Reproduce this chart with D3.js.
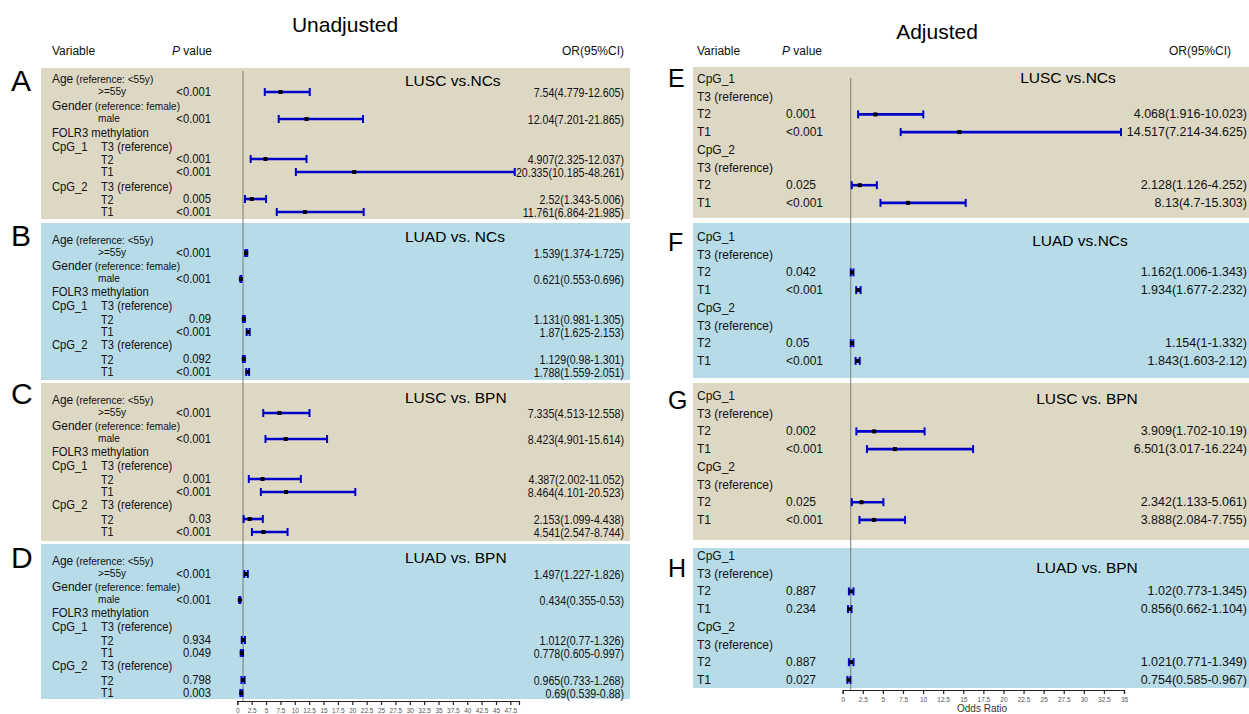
<!DOCTYPE html>
<html>
<head>
<meta charset="utf-8">
<script src="https://cdn.jsdelivr.net/npm/d3@7"></script>
<style>
  html, body { margin: 0; padding: 0; background: #ffffff; }
  svg { display: block; font-family: "Liberation Sans", Arial, sans-serif; }
</style>
</head>
<body>
<svg id="chart" width="1249" height="714"></svg>
<script>
// ---- Unadjusted models (panels A-D) ----
const leftIds = ["A", "B", "C", "D"];
const leftTitles = ["LUSC vs.NCs", "LUAD vs. NCs", "LUSC vs. BPN", "LUAD vs. BPN"];
const leftTerms = [">=55y", "male", "T2", "T1", "T2", "T1"];
const uP = [
  ["<0.001", "<0.001", "<0.001", "<0.001", "0.005", "<0.001"],
  ["<0.001", "<0.001", "0.09", "<0.001", "0.092", "<0.001"],
  ["<0.001", "<0.001", "0.001", "<0.001", "0.03", "<0.001"],
  ["<0.001", "<0.001", "0.934", "0.049", "0.798", "0.003"]
];
const uOR = [
  [7.54, 12.04, 4.907, 20.335, 2.52, 11.761],
  [1.539, 0.621, 1.131, 1.87, 1.129, 1.788],
  [7.335, 8.423, 4.387, 8.464, 2.153, 4.541],
  [1.497, 0.434, 1.012, 0.778, 0.965, 0.69]
];
const uLow = [
  [4.779, 7.201, 2.325, 10.185, 1.343, 6.864],
  [1.374, 0.553, 0.981, 1.625, 0.98, 1.559],
  [4.513, 4.901, 2.002, 4.101, 1.099, 2.547],
  [1.227, 0.355, 0.77, 0.605, 0.733, 0.539]
];
const uHigh = [
  [12.605, 21.865, 12.037, 48.261, 5.006, 21.985],
  [1.725, 0.696, 1.305, 2.153, 1.301, 2.051],
  [12.558, 15.614, 11.052, 20.523, 4.438, 8.744],
  [1.826, 0.53, 1.326, 0.997, 1.268, 0.88]
];
const leftTicks = [0, 2.5, 5, 7.5, 10, 12.5, 15, 17.5, 20, 22.5, 25, 27.5, 30, 32.5, 35, 37.5, 40, 42.5, 45, 47.5];

// ---- Adjusted models (panels E-H) ----
const rightIds = ["E", "F", "G", "H"];
const rightTitles = ["LUSC vs.NCs", "LUAD vs.NCs", "LUSC vs. BPN", "LUAD vs. BPN"];
const rightTerms = ["T2", "T1", "T2", "T1"];
const aP = [
  ["0.001", "<0.001", "0.025", "<0.001"],
  ["0.042", "<0.001", "0.05", "<0.001"],
  ["0.002", "<0.001", "0.025", "<0.001"],
  ["0.887", "0.234", "0.887", "0.027"]
];
const aOR = [
  [4.068, 14.517, 2.128, 8.13],
  [1.162, 1.934, 1.154, 1.843],
  [3.909, 6.501, 2.342, 3.888],
  [1.02, 0.856, 1.021, 0.754]
];
const aLow = [
  [1.916, 7.214, 1.126, 4.7],
  [1.006, 1.677, 1, 1.603],
  [1.702, 3.017, 1.133, 2.084],
  [0.773, 0.662, 0.771, 0.585]
];
const aHigh = [
  [10.023, 34.625, 4.252, 15.303],
  [1.343, 2.232, 1.332, 2.12],
  [10.19, 16.224, 5.061, 7.755],
  [1.345, 1.104, 1.349, 0.967]
];
const rightTicks = [0, 2.5, 5, 7.5, 10, 12.5, 15, 17.5, 20, 22.5, 25, 27.5, 30, 32.5, 35];

// ---- drawing ----
const svg = d3.select("#chart");
const BEIGE = "#ddd8c4", BLUE = "#b7dce7", BAR = "#0000c8";
const bgColors = [BEIGE, BLUE, BEIGE, BLUE];
const NARROW = 0.9; // condensed text used in the unadjusted table

const xL = d3.scaleLinear().domain([0, 49]).range([237.3, 519]);
const xR = d3.scaleLinear().domain([0, 35]).range([842.7, 1124]);

const leftTops = [68, 223, 383, 544], leftBottoms = [219, 380, 541, 699];
const rightTops = [67, 223, 383, 548], rightBottoms = [218, 378, 540, 688];
const rowsA = [11, 24, 38, 51, 65, 79, 91, 104, 119, 131, 144];
const rowsBCD = [17, 30, 43, 56, 69, 83, 96, 109, 122, 136, 149];
const leftEstRows = [1, 3, 6, 7, 9, 10];
const rightFirst = [12, 14, 13, 8], rightStep = 17.7;
const rightEstRows = [2, 3, 6, 7];
const leftLetterY = [91, 246, 404, 568];
const rightLetterY = [87, 251, 409, 577];
const leftTitleY = [86, 242, 403, 563];
const rightTitleY = [83, 246, 404, 573];
const rightTitleX = [1068, 1080, 1087, 1087];

function orText(o, l, h) { return `${o}(${l}-${h})`; }

function errorBar(g, x, y, o, l, h) {
  g.append("line").attr("x1", x(l)).attr("x2", x(h)).attr("y1", y).attr("y2", y)
    .attr("stroke", BAR).attr("stroke-width", 2.6);
  [l, h].forEach(v => g.append("line").attr("x1", x(v)).attr("x2", x(v))
    .attr("y1", y - 4).attr("y2", y + 4).attr("stroke", BAR).attr("stroke-width", 2));
  g.append("rect").attr("x", x(o) - 2).attr("y", y - 2).attr("width", 4).attr("height", 4)
    .attr("fill", "#000");
}

function txt(g, x, y, s, size, anchor, sx) {
  return g.append("text")
    .attr("transform", `translate(${x},${y}) scale(${sx || 1},1)`)
    .attr("dominant-baseline", "central")
    .attr("font-size", size).attr("text-anchor", anchor || "start").attr("fill", "#111").text(s);
}

// headings
svg.append("text").attr("x", 345).attr("y", 32).attr("text-anchor", "middle")
  .attr("font-size", 21).attr("fill", "#000").text("Unadjusted");
svg.append("text").attr("x", 937).attr("y", 39).attr("text-anchor", "middle")
  .attr("font-size", 21).attr("fill", "#000").text("Adjusted");

function header(x0, xp, xo) {
  const g = svg.append("g");
  txt(g, x0, 51, "Variable", 12);
  const t = txt(g, xp, 51, "", 12);
  t.append("tspan").attr("font-style", "italic").text("P");
  t.append("tspan").text(" value");
  txt(g, xo, 51, "OR(95%CI)", 12, "end");
}
header(52, 172, 624);
header(697, 782, 1231);

// panel backgrounds and reference lines at OR = 1
leftIds.forEach((id, i) => {
  svg.append("rect").attr("x", 41).attr("y", leftTops[i]).attr("width", 589)
    .attr("height", leftBottoms[i] - leftTops[i]).attr("fill", bgColors[i]);
});
rightIds.forEach((id, i) => {
  svg.append("rect").attr("x", 693).attr("y", rightTops[i]).attr("width", 556)
    .attr("height", rightBottoms[i] - rightTops[i]).attr("fill", bgColors[i]);
});
svg.append("line").attr("x1", xL(1)).attr("x2", xL(1)).attr("y1", 71).attr("y2", 701)
  .attr("stroke", "#7a7a7a").attr("stroke-width", 1);
svg.append("line").attr("x1", xR(1)).attr("x2", xR(1)).attr("y1", 78).attr("y2", 690)
  .attr("stroke", "#7a7a7a").attr("stroke-width", 1);

// left panels
leftIds.forEach((id, i) => {
  const g = svg.append("g");
  const top = leftTops[i];
  const rows = (i === 0 ? rowsA : rowsBCD).map(r => top + r);
  g.append("text").attr("x", 11).attr("y", leftLetterY[i]).attr("font-size", 30)
    .attr("fill", "#000").text(id);
  g.append("text").attr("x", 405).attr("y", leftTitleY[i]).attr("font-size", 15.5)
    .attr("fill", "#000").text(leftTitles[i]);

  let t = txt(g, 52, rows[0], "", 13, "start", 0.92);
  t.append("tspan").text("Age");
  t.append("tspan").attr("font-size", 11).text(" (reference: <55y)");
  t = txt(g, 52, rows[2], "", 13, "start", 0.92);
  t.append("tspan").text("Gender");
  t.append("tspan").attr("font-size", 11).text(" (reference: female)");
  txt(g, 52, rows[4], "FOLR3 methylation", 12.5, "start", NARROW);
  txt(g, 52, rows[5], "CpG_1", 12.5, "start", NARROW);
  txt(g, 101, rows[5], "T3 (reference)", 12.5, "start", NARROW);
  txt(g, 52, rows[8], "CpG_2", 12.5, "start", NARROW);
  txt(g, 101, rows[8], "T3 (reference)", 12.5, "start", NARROW);

  leftEstRows.forEach((r, k) => {
    const y = rows[r];
    if (k < 2) txt(g, 98, y - 1.5, leftTerms[k], 11.5, "start", 0.88);
    else txt(g, 101, y + (k % 2 === 0 ? 1 : 0), leftTerms[k], 12, "start", NARROW);
    txt(g, 211, y, uP[i][k], 12.5, "end", NARROW);
    txt(g, 624, y, orText(uOR[i][k], uLow[i][k], uHigh[i][k]), 12.5, "end", 0.85);
    errorBar(g, xL, y, uOR[i][k], uLow[i][k], uHigh[i][k]);
  });
});

// right panels
rightIds.forEach((id, i) => {
  const g = svg.append("g");
  const rows = d3.range(8).map(r => rightTops[i] + rightFirst[i] + r * rightStep);
  g.append("text").attr("x", 668).attr("y", rightLetterY[i]).attr("font-size", 25)
    .attr("fill", "#000").text(id);
  g.append("text").attr("x", rightTitleX[i]).attr("y", rightTitleY[i]).attr("text-anchor", "middle")
    .attr("font-size", 15.5).attr("fill", "#000").text(rightTitles[i]);
  txt(g, 697, rows[0], "CpG_1", 12);
  txt(g, 697, rows[1], "T3 (reference)", 12);
  txt(g, 697, rows[4], "CpG_2", 12);
  txt(g, 697, rows[5], "T3 (reference)", 12);
  rightEstRows.forEach((r, k) => {
    const y = rows[r];
    txt(g, 697, y, rightTerms[k], 12);
    txt(g, 786, y, aP[i][k], 12);
    txt(g, 1247, y, orText(aOR[i][k], aLow[i][k], aHigh[i][k]), 12.5, "end");
    errorBar(g, xR, y, aOR[i][k], aLow[i][k], aHigh[i][k]);
  });
});

// axes
function styleAxis(g) {
  g.selectAll("path, line").attr("stroke", "#222").attr("stroke-width", 1.2);
  g.selectAll("text").attr("font-size", 6.5).attr("fill", "#555");
}
const axL = svg.append("g").attr("transform", "translate(0,701)")
  .call(d3.axisBottom(xL).tickValues(leftTicks).tickSize(4).tickSizeOuter(4).tickPadding(3)
    .tickFormat(d => String(d)));
styleAxis(axL);
const axR = svg.append("g").attr("transform", "translate(0,690)")
  .call(d3.axisBottom(xR).tickValues(rightTicks).tickSize(4).tickSizeOuter(4).tickPadding(3)
    .tickFormat(d => String(d)));
styleAxis(axR);
svg.append("text").attr("x", 982).attr("y", 708).attr("dominant-baseline", "central")
  .attr("text-anchor", "middle").attr("font-size", 10).attr("fill", "#333").text("Odds Ratio");
</script>
</body>
</html>
